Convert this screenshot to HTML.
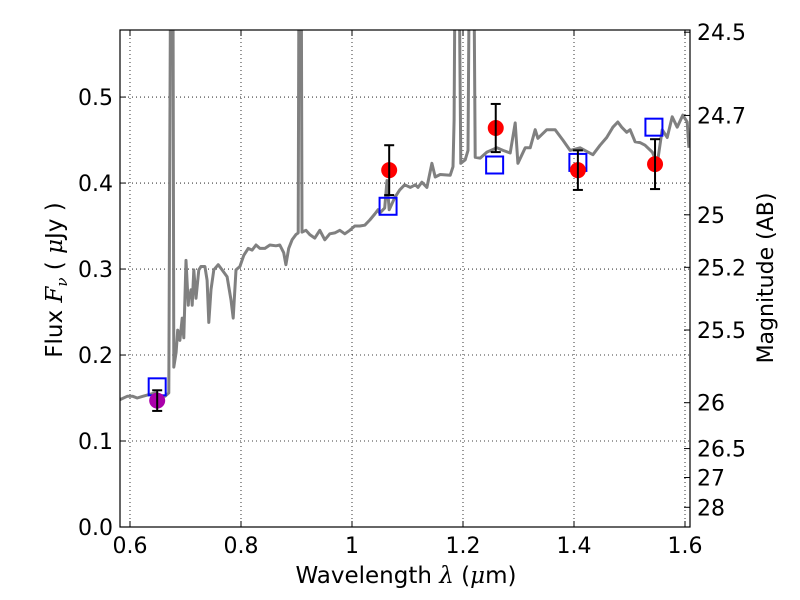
<!DOCTYPE html>
<html><head><meta charset="utf-8"><style>
html,body{margin:0;padding:0;background:#fff;}
svg{display:block;font-family:"DejaVu Sans","Liberation Sans",sans-serif;}
</style></head><body>
<svg id="chart" width="800" height="600" viewBox="0 0 800 600" xmlns="http://www.w3.org/2000/svg">
<defs><clipPath id="clip"><rect x="120" y="30" width="570" height="497"/></clipPath></defs>
<rect x="0" y="0" width="800" height="600" fill="#fff"/>
<g id="grid"></g>
<g id="series" clip-path="url(#clip)"></g>
<rect x="120" y="30" width="570" height="497" fill="none" stroke="#000" stroke-width="1.2"/>
<g id="axes"></g>
<text x="406" y="583" font-size="23" text-anchor="middle">Wavelength  <tspan font-family="DejaVu Serif,serif" font-style="italic">λ</tspan> (<tspan font-family="DejaVu Serif,serif" font-style="italic">μ</tspan>m)</text>
<text transform="translate(62,280) rotate(-90)" font-size="23" text-anchor="middle">Flux  <tspan font-family="DejaVu Serif,serif" font-style="italic">F</tspan><tspan font-family="DejaVu Serif,serif" font-style="italic" font-size="15" dy="5">ν</tspan><tspan dy="-5">  ( </tspan><tspan font-family="DejaVu Serif,serif" font-style="italic">μ</tspan>Jy )</text>
<text transform="translate(773,278) rotate(-90)" font-size="22" text-anchor="middle">Magnitude (AB)</text>
</svg>
<script>
const specLam=[0.582,0.595,0.605,0.613,0.623,0.645,0.654,0.663,0.670,0.674,0.677,0.679,0.683,0.686,0.690,0.694,0.697,0.701,0.705,0.706,0.708,0.710,0.712,0.715,0.719,0.724,0.728,0.735,0.739,0.742,0.746,0.751,0.759,0.766,0.775,0.782,0.786,0.791,0.798,0.805,0.813,0.820,0.827,0.834,0.843,0.852,0.863,0.870,0.877,0.881,0.886,0.892,0.899,0.903,0.905,0.908,0.910,0.917,0.924,0.933,0.942,0.951,0.960,0.969,0.978,0.987,0.996,1.005,1.014,1.023,1.032,1.041,1.047,1.050,1.059,1.063,1.067,1.077,1.086,1.095,1.105,1.114,1.119,1.126,1.135,1.144,1.150,1.159,1.177,1.182,1.184,1.187,1.191,1.196,1.204,1.209,1.213,1.218,1.222,1.231,1.243,1.261,1.272,1.285,1.294,1.299,1.312,1.321,1.330,1.335,1.351,1.366,1.380,1.393,1.411,1.425,1.434,1.447,1.459,1.470,1.479,1.486,1.495,1.501,1.510,1.519,1.528,1.541,1.550,1.559,1.568,1.577,1.586,1.596,1.604,1.607];
const specFlux=[0.148,0.152,0.152,0.150,0.152,0.156,0.153,0.152,0.156,0.8,0.8,0.186,0.203,0.229,0.217,0.243,0.22,0.310,0.258,0.270,0.267,0.276,0.258,0.299,0.266,0.299,0.303,0.303,0.287,0.238,0.276,0.299,0.305,0.299,0.291,0.264,0.243,0.299,0.303,0.316,0.324,0.322,0.328,0.324,0.324,0.328,0.327,0.328,0.319,0.305,0.324,0.334,0.340,0.342,0.8,0.8,0.343,0.345,0.340,0.336,0.345,0.334,0.341,0.342,0.345,0.341,0.345,0.350,0.350,0.351,0.357,0.364,0.369,0.365,0.371,0.403,0.369,0.383,0.392,0.398,0.395,0.398,0.395,0.401,0.395,0.423,0.407,0.410,0.409,0.419,0.473,0.8,0.8,0.423,0.427,0.438,0.8,0.8,0.430,0.429,0.436,0.441,0.438,0.435,0.470,0.423,0.441,0.441,0.462,0.452,0.462,0.462,0.450,0.438,0.441,0.436,0.433,0.444,0.453,0.465,0.471,0.465,0.459,0.462,0.448,0.447,0.444,0.436,0.423,0.462,0.453,0.477,0.465,0.479,0.471,0.441];
const obsLam=[1.067,1.259,1.407,1.546];
const obsFlux=[0.415,0.464,0.415,0.422];
const obsErr=[0.029,0.028,0.023,0.029];
const magLam=[0.649];
const magFlux=[0.147];
const magErr=[0.012];
const modelLam=[0.649,1.065,1.257,1.407,1.544];
const modelFlux=[0.163,0.373,0.421,0.424,0.465];
const xTicks=[0.6,0.8,1.0,1.2,1.4,1.6];
const xTickLabels=["0.6","0.8","1","1.2","1.4","1.6"];
const yTicks=[0,0.1,0.2,0.3,0.4,0.5];
const yTickLabels=["0.0","0.1","0.2","0.3","0.4","0.5"];
const magTicks=[24.5,24.7,25,25.2,25.5,26,26.5,27,28];
const magTickLabels=["24.5","24.7","25","25.2","25.5","26","26.5","27","28"];

const X0=120,X1=690,Y0=527,Y1=30,LMIN=0.582,LMAX=1.609,FMIN=0,FMAX=0.578;
const sx=l=>X0+(l-LMIN)/(LMAX-LMIN)*(X1-X0);
const sy=f=>Y0-(f-FMIN)/(FMAX-FMIN)*(Y0-Y1);
const magToFlux=m=>Math.pow(10,(23.9-m)/2.5);
const NS="http://www.w3.org/2000/svg";
function mk(tag,attrs,parent){const e=document.createElementNS(NS,tag);for(const k in attrs)e.setAttribute(k,attrs[k]);parent.appendChild(e);return e;}
const grid=document.getElementById('grid'),axes=document.getElementById('axes'),ser=document.getElementById('series');

xTicks.forEach((t,i)=>{const x=sx(t);
 const g=mk('line',{x1:x,x2:x,y1:Y1,y2:Y0,stroke:'#000','stroke-width':0.8,'stroke-dasharray':'1,3'},grid);
 
 mk('line',{x1:x,x2:x,y1:Y0,y2:Y0-6,stroke:'#000'},axes);
 mk('line',{x1:x,x2:x,y1:Y1,y2:Y1+6,stroke:'#000'},axes);
 const tx=mk('text',{x:x,y:Y0+26,'font-size':22,'text-anchor':'middle'},axes);tx.textContent=xTickLabels[i];
 
});
yTicks.forEach((t,i)=>{const y=sy(t);
 const g=mk('line',{x1:X0,x2:X1,y1:y,y2:y,stroke:'#000','stroke-width':0.8,'stroke-dasharray':'1,3'},grid);
 
 mk('line',{x1:X0,x2:X0+6,y1:y,y2:y,stroke:'#000'},axes);
 const tx=mk('text',{x:X0-7,y:y+8,'font-size':22,'text-anchor':'end'},axes);tx.textContent=yTickLabels[i];
 
});
magTicks.forEach((m,i)=>{const y=sy(magToFlux(m));
 mk('line',{x1:X1,x2:X1-6,y1:y,y2:y,stroke:'#000'},axes);
 const tx=mk('text',{x:X1+7,y:y+8,'font-size':22,'text-anchor':'start'},axes);tx.textContent=magTickLabels[i];
 
});

const pl=mk('polyline',{points:specLam.map((l,i)=>sx(l).toFixed(1)+','+sy(specFlux[i]).toFixed(1)).join(' '),fill:'none',stroke:'#808080','stroke-width':3,'stroke-linejoin':'round'},ser);


function errPt(l,f,e,color,name){const x=sx(l);
 const b=mk('g',{},ser);
 
 mk('circle',{cx:x,cy:sy(f),r:8,fill:color},b);
 mk('line',{x1:x,x2:x,y1:sy(f-e),y2:sy(f+e),stroke:'#000','stroke-width':2},b);
 mk('line',{x1:x-5,x2:x+5,y1:sy(f-e),y2:sy(f-e),stroke:'#000','stroke-width':2},b);
 mk('line',{x1:x-5,x2:x+5,y1:sy(f+e),y2:sy(f+e),stroke:'#000','stroke-width':2},b);
}
modelLam.forEach((l,i)=>{const r=mk('rect',{x:sx(l)-8.5,y:sy(modelFlux[i])-8.5,width:17,height:17,fill:'none',stroke:'#0000ff','stroke-width':2},ser);
 });
obsLam.forEach((l,i)=>errPt(l,obsFlux[i],obsErr[i],'#ff0000','observed-point'));
magLam.forEach((l,i)=>errPt(l,magFlux[i],magErr[i],'#aa00aa','observed-point-magenta'));
</script>
</body></html>
